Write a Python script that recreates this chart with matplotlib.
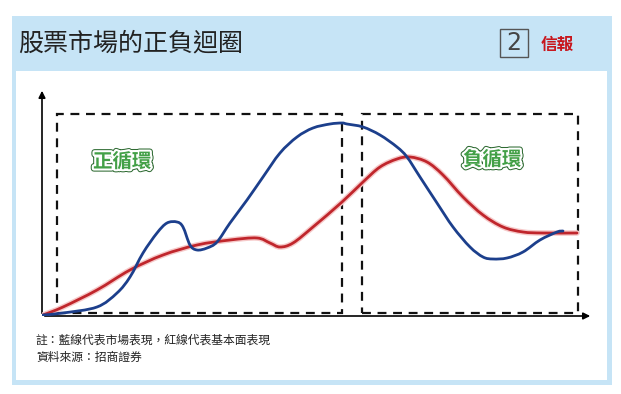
import numpy as np
import matplotlib.pyplot as plt
from matplotlib.patches import Rectangle, PathPatch
from matplotlib.path import Path
import matplotlib.patheffects as pe

plt.rcParams['font.family'] = ['Noto Sans CJK TC', 'DejaVu Sans']

# market performance (blue) and fundamentals (red), x = time, y = level
blue_x = [1, 21, 55, 75, 88, 101, 115, 125, 135, 141, 148, 155, 165, 175, 188, 205, 221,
          238, 255, 271, 288, 300, 305, 321, 338, 355, 365, 378, 395, 411, 428, 441, 451,
          465, 481, 498, 515, 521]
blue_y = [1, 3, 9, 23, 39, 63, 83, 93, 94, 89, 71, 66, 68, 74, 93, 116, 139,
          163, 179, 188, 192, 193, 192, 189, 181, 169, 159, 139, 113, 89, 69, 59, 57,
          58, 64, 76, 84, 85]
red_x = [1, 21, 55, 88, 121, 155, 188, 215, 228, 238, 251, 271, 300, 321, 338, 355, 368,
         385, 401, 421, 441, 461, 481, 501, 535]
red_y = [1, 9, 26, 46, 61, 71, 76, 78, 73, 69, 73, 89, 114, 134, 149, 157, 159,
         154, 141, 119, 101, 89, 84, 83, 83]

# phase boxes: (x0, x1, label, label x, label y)
phases = [(15, 300, '正循環', 51, 154), (320, 536, '負循環', 421, 156)]

title = '股票市場的正負迴圈'
notes = ['註：藍線代表市場表現，紅線代表基本面表現', '資料來源：招商證券']

W, H = 621, 394
fig = plt.figure(figsize=(W / 100, H / 100), dpi=100)
fig.patch.set_facecolor('white')


def fx(px):
    return px / W


def fy(py):
    return 1 - py / H


def smooth_path(xs, ys):
    # Catmull-Rom through the points, written as cubic Bezier segments
    p = np.column_stack([xs, ys]).astype(float)
    p = np.vstack([p[0], p, p[-1]])
    verts = [p[1]]
    codes = [Path.MOVETO]
    for i in range(1, len(p) - 2):
        c1 = p[i] + (p[i + 1] - p[i - 1]) / 6
        c2 = p[i + 1] - (p[i + 2] - p[i]) / 6
        verts += [c1, c2, p[i + 1]]
        codes += [Path.CURVE4] * 3
    return Path(verts, codes)


# frame and header band
fig.patches.append(Rectangle((fx(12), fy(385)), fx(600), 369 / H, transform=fig.transFigure,
                             facecolor='#c6e4f6', edgecolor='none', zorder=-2))
fig.patches.append(Rectangle((fx(16), fy(380)), fx(591), 309 / H, transform=fig.transFigure,
                             facecolor='white', edgecolor='none', zorder=-1))

fig.text(fx(18), fy(43), title, fontsize=18, color='#222222', va='center', ha='left')
fig.patches.append(Rectangle((fx(500), fy(57)), fx(28), 28 / H, transform=fig.transFigure,
                             facecolor='none', edgecolor='#555555', linewidth=1, zorder=1))
fig.text(fx(514), fy(43), '2', fontsize=17, color='#444444', va='center', ha='center',
         family='DejaVu Sans')
fig.text(fx(541), fy(45), '信報', fontsize=12, color='#c8161d', fontweight='bold',
         va='center', ha='left')

for i, t in enumerate(notes):
    fig.text(fx(36), fy(340 + 17 * i), t, fontsize=8.5, color='#222222', va='center')

# chart area
ax = fig.add_axes([fx(42), fy(316), fx(551), 228 / H])
ax.set_zorder(2)
ax.set_xlim(0, 551)
ax.set_ylim(0, 228)
ax.axis('off')

ax.annotate('', xy=(551, 0), xytext=(0, 0),
            arrowprops=dict(arrowstyle='-|>', color='black', lw=1.2, mutation_scale=10))
ax.annotate('', xy=(0, 228), xytext=(0, 0),
            arrowprops=dict(arrowstyle='-|>', color='black', lw=1.2, mutation_scale=10))

for x0, x1, label, lx, ly in phases:
    ax.add_patch(Rectangle((x0, 3), x1 - x0, 199, facecolor='none', edgecolor='#111111',
                           linewidth=1.6, linestyle=(0, (4, 3))))
    ax.text(lx, ly, label, fontsize=14, fontweight='bold', color='#43a047', va='center',
            ha='left',
            path_effects=[pe.Stroke(linewidth=4.5, foreground='#2f6b33'),
                          pe.Stroke(linewidth=3, foreground='white'), pe.Normal()])

red_path = smooth_path(red_x, red_y)
blue_path = smooth_path(blue_x, blue_y)
ax.add_patch(PathPatch(red_path, facecolor='none', edgecolor='#f6c9c9', linewidth=4,
                       capstyle='round', zorder=3))
ax.add_patch(PathPatch(red_path, facecolor='none', edgecolor='#c0262c', linewidth=2,
                       capstyle='round', zorder=4))
ax.add_patch(PathPatch(blue_path, facecolor='none', edgecolor='#1c3f8c', linewidth=2,
                       capstyle='round', zorder=5))

fig.savefig('out.png', dpi=100)
